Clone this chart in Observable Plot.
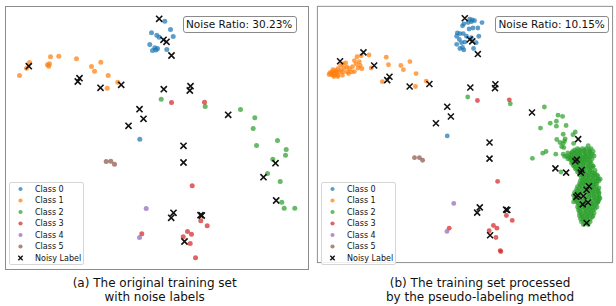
<!DOCTYPE html>
<html>
<head>
<meta charset="utf-8">
<script src="https://cdn.jsdelivr.net/npm/d3@7"></script>
<script src="https://cdn.jsdelivr.net/npm/@observablehq/plot@0.6"></script>
<style>
  html, body { margin: 0; padding: 0; background: #fff; }
  #wrap { position: relative; width: 616px; height: 306px; overflow: hidden; background: #fff; font-family: "DejaVu Sans", sans-serif; }
  .panel { position: absolute; top: 0; }
  .ratio { position: absolute; box-sizing: border-box; border: 1px solid #8a8a8a; border-radius: 3px; background: #fff;
           font-size: 10.5px; line-height: 14px; padding-left: 2.5px; white-space: nowrap; color: #111; }
  .legend { position: absolute; box-sizing: border-box; border: 1px solid #d6d6d6; border-radius: 2px; background: rgba(255,255,255,0.85); }
  .caption { position: absolute; width: 240px; text-align: center; font-size: 12px; line-height: 14px; color: #111; }
</style>
</head>
<body>
<div id="wrap"></div>
<script>
// ---------- categories ----------
const classNames = ["Class 0", "Class 1", "Class 2", "Class 3", "Class 4", "Class 5"];
const classColors = ["#1f77b4", "#ff7f0e", "#2ca02c", "#d62728", "#9467bd", "#8c564b"];
const noisyName = "Noisy Label";
const ratioA = "Noise Ratio: 30.23%";
const ratioB = "Noise Ratio: 10.15%";
const captionA = ["(a) The original training set", "with noise labels"];
const captionB = ["(b) The training set processed", "by the pseudo-labeling method"];

// ---------- panel (a): embedding coordinates ----------
const a_class0 = [[164.3,20.7],[170,29],[151,32.3],[156.3,34.7],[158.7,36.7],[172.7,36],[149.3,44],[154.3,47.3],[157,48],[152,50],[166.3,49],[155.5,49.5],[139.3,138.7]];
const a_class1 = [[19,75],[26,67.7],[29,62],[47,64.3],[49,63.3],[48.3,65.7],[50,56.3],[58.3,55.7],[76,58.3],[91,66],[100.3,61.7],[94,70.7],[107.7,75],[117.3,81.7],[106.7,87.7]];
const a_class2 = [[160.7,98.7],[204.7,106],[240,109],[254.3,117.3],[252.7,128],[256,145],[277,140],[285.7,149],[285,154.7],[272.3,158.7],[267,173],[279.7,181],[281.3,201.7],[283.7,207.7],[294.3,207.7]];
const a_class3 = [[171,102],[204,101.7],[191.7,185.3],[200.3,220.3],[206.7,225.3],[187,231],[191,233.7],[182.7,236.3],[189.7,243],[195,257.3],[141.3,233.3]];
const a_class4 = [[145.7,208],[139,237]];
const a_class5 = [[105.7,161],[110.3,160.7],[114,163.7]];
const a_noisy = [[158.7,18.3],[163,39.3],[166,41.3],[171,55],[28.3,65.7],[77.3,81],[79,77.7],[100,87.3],[120.7,84.3],[163.3,88.7],[189.3,90],[190,85.7],[139,108.7],[143,118.3],[128,125.3],[227.7,114.3],[183,145.3],[183,162],[275,162.7],[263,176.7],[275.7,200],[173,212.3],[170.7,217.3],[200,214.7],[201.3,215],[184,241]];

// ---------- panel (b) ----------
const b_class0 = [[473.3,19.3],[476,20],[478.3,20.7],[475,21.7],[471.7,22.7],[467.3,24],[466,26],[486,22.7],[481.7,28.3],[476.7,28.3],[472.7,29.3],[460.7,33.3],[463.3,34],[466.7,34],[460,36.7],[470,36.7],[475,38.3],[482.7,36.7],[462.7,40],[465,43.3],[460,45],[466,48.3],[463.3,49.3],[467.3,50.7],[477.3,49.3],[468.3,42.7],[480,43.3],[450.3,139]];
const b_class1 = [[370,56],[362,56.7],[357.7,57.7],[355,61.7],[360,62.7],[356.7,65],[361,66.7],[358.7,69.3],[362.7,70],[352,73.3],[347.3,68.3],[347.7,73.3],[343.3,73.3],[344.3,69.3],[340.7,66.7],[338,70],[336,71.7],[334.3,73.3],[332.7,75],[332,73.3],[335.3,76],[336.7,74.3],[339.3,73.3],[331,76],[333.3,76.7],[337.7,76.7],[341,71.7],[342.7,76.7],[330,74],[334,78],[338,78],[329,76],[333,71],[343,65],[346,64],[350,70],[353,68],[349,75],[355,73],[387.7,58.3],[390,66],[402.7,66.7],[412,62.7],[405.3,71],[418.3,75],[383.7,83.3],[417.7,88.3],[372.3,69.3],[428.7,82.7]];
const b_class2 = [[471.3,99],[515,106],[550,109.3],[564,117.7],[568.7,119],[562.3,124],[556,126],[562.3,129],[572.3,128.3],[546,131],[569.3,137.3],[579.3,137.7],[581.7,135],[562.7,142.7],[566,145.7],[570.7,144.3],[569.3,146.7],[567.7,150],[580,146.7],[595,149],[570,151],[548.3,156.7],[551.7,155],[561.7,157.7],[569.3,157.7],[570.7,160],[576.7,161.7],[537.7,162],[571.3,142],[567,176],[600,170],[607.3,183.3],[605,206.7],[580,206.7],
  [584,152],[589,152],[593,152],[598,152],
  [581,153.5],[586,153.5],[591,153.5],[596,153.5],
  [579,155],[583,155],[587,155],[591,155],[596,155],[600,155],
  [574,156.5],[578,156.5],[582,156.5],[586.5,156.5],[592,156.5],[597,156.5],
  [577,158],[581,158],[585,158],[590,158],[594,158],[599,158],
  [573,159.5],[578,159.5],[583,159.5],[587,159.5],[592,159.5],[596,159.5],[601,159.5],
  [575,161],[579,161],[584,161],[588,161],[592,161],[597,161],
  [574,162.5],[578,162.5],[581,162.5],[586,162.5],[590,162.5],[594,162.5],[599,162.5],
  [577,164],[582,164],[586,164],[590,164],[595,164],
  [579,165.5],[584,165.5],[588,165.5],[592,165.5],[597,165.5],
  [578,167],[583,167],[588,167],[593,167],[598,167],
  [580,168.5],[585,168.5],[590,168.5],[596,168.5],
  [580,170],[585,170],[590,170],[595,170],[600,170.5],
  [582,171.5],[588,171.5],[593,171.5],[598,171.5],
  [582,173],[586,173],[591,173],[596,173],
  [585,174.5],[590,174.5],[597,174.5],[602,174.5],
  [584,176],[589,176],[594,176],[599,176],
  [588,177.5],[593,177.5],[598,177.5],[602,177.5],
  [586,179],[591,179],[596,179],[601,179],[604,179],
  [590,180.5],[595,180.5],[600,180.5],[605,180.5],
  [588,182],[593,182],[598,182],[603,182],
  [590,183.5],[595,183.5],[600,183.5],[605,183.5],
  [587,185],[592,185],[597,185],[602,185],[606,185],
  [589,186.5],[593,186.5],[598,186.5],[603,186.5],
  [586,188],[590,188],[595,188],[600,188],[604,188],
  [587,189.5],[592,189.5],[597,189.5],[601,189.5],
  [584,191],[589,191],[599,191],[603,191],
  [586,192.5],[592,192.5],[596,192.5],[601,192.5],[606,192.5],
  [583,194],[588,194],[599,194],[604,194],
  [584,195.5],[590,195.5],[595,195.5],[600,195.5],[605,195.5],
  [581,197],[586,197],[592,197],[597,197],[602,197],[606,197],
  [583,198.5],[588,198.5],[596,198.5],[601,198.5],[606,198.5],
  [580,200],[594,200],[599,200],[604,200],
  [586,201.5],[596,201.5],[601,201.5],[606,201.5],
  [581,203],[586,203],[592,203],[598,203],[603,203],[607,203],
  [582,204.5],[590,204.5],[595,204.5],[602,204.5],[606,204.5],
  [583,206],[588,206],[600,206],[605,206],
  [584,207.5],[594,207.5],[598,207.5],[604,207.5],
  [585,209],[591,209],[599,209],[603,209],
  [586,210.5],[590,210.5],[596,210.5],[601,210.5],
  [584,212],[589,212],[594,212],[599,212],[604,212],
  [586,213.5],[592,213.5],[597,213.5],[602,213.5],
  [585,215],[590,215],[595,215],[600,215],
  [587,216.5],[593,216.5],[598,216.5],
  [586,218],[591,218],[596,218],[601,218],
  [588,219.5],[593,219.5],[598,219.5],
  [586,221],[590,221],[595,221],[600,221],
  [589,222.5],[594,222.5],[599,222.5],
  [587,224],[592,224],[597,224],
  [590,225.5],[594,225.5],
  [588,227],[597,227],
  [592,228.5],
  [590,230],[595,230]];
const b_class3 = [[481.3,102.7],[514,102],[502,185.7],[511,220.7],[517,225.7],[497.7,231],[501.3,233.7],[493.3,236.3],[500.3,243.3],[504.7,256.7],[505.3,257.7],[452.3,233.7]];
const b_class4 = [[457,208.3],[450,237]];
const b_class5 = [[416.7,161.3],[421.7,161.3],[425,164]];
const b_noisy = [[468.3,18.3],[473.3,40],[476,42],[481.7,55],[340.3,62.3],[364.3,53.3],[375.3,66.7],[391,78.3],[388.7,81.7],[411.7,88.3],[432,85.7],[474,89.3],[499.7,86],[499.3,90],[450.3,109],[454,119],[438.7,126],[537.3,115],[493.7,145.7],[493.7,162.3],[483.7,212.3],[481,217.7],[510.7,214.7],[512,215],[494.3,241],[584.7,142.3],[583.3,163.3],[581.7,165],[561.3,172.3],[572.3,176.7],[588.3,174],[587.3,176.7],[595.7,190.7],[593.3,194.3],[582.7,201.7],[584.3,200],[590,200.7],[589.3,209.3],[594.7,207.3],[593.3,228.3]];

// plot extents of each embedding panel
const a_xDomain = [5, 308], a_yDomain = [6, 269];
const b_xDomain = [317, 620], b_yDomain = [6, 269];

function rows(classes) {
  const out = [];
  classes.forEach((arr, i) => arr.forEach(([x, y]) => out.push({x, y, cls: classNames[i]})));
  return out;
}
function pts(arr) { return arr.map(([x, y]) => ({x, y})); }

function panel(classes, noisy, xDomain, yDomain) {
  return Plot.plot({
    width: 312, height: 272,
    marginLeft: 5, marginTop: 6, marginRight: 4, marginBottom: 3,
    x: {domain: xDomain, axis: null},
    y: {domain: yDomain, reverse: true, axis: null},
    color: {domain: classNames, range: classColors},
    style: {background: "transparent", overflow: "visible"},
    marks: [
      Plot.frame({stroke: "#8c8c8c", strokeWidth: 1}),
      Plot.dot(rows(classes), {x: "x", y: "y", fill: "cls", r: 2.5, fillOpacity: 0.72, stroke: null}),
      Plot.dot(pts(noisy), {x: "x", y: "y", symbol: "times", r: 2.9, stroke: "#111", strokeWidth: 1.6})
    ]
  });
}

const wrap = document.getElementById("wrap");

function addPanel(left, svg) {
  const d = document.createElement("div");
  d.className = "panel";
  d.style.left = left + "px";
  d.appendChild(svg);
  wrap.appendChild(d);
}

addPanel(0, panel([a_class0, a_class1, a_class2, a_class3, a_class4, a_class5], a_noisy, a_xDomain, a_yDomain));
addPanel(312, panel([b_class0, b_class1, b_class2, b_class3, b_class4, b_class5], b_noisy, b_xDomain, b_yDomain));

function addRatio(left, top, width, height, text) {
  const d = document.createElement("div");
  d.className = "ratio";
  Object.assign(d.style, {left: left + "px", top: top + "px", width: width + "px", height: height + "px", lineHeight: (height - 2) + "px"});
  d.textContent = text;
  wrap.appendChild(d);
}
addRatio(182.5, 16, 114, 17, ratioA);
addRatio(495, 16, 113.5, 17, ratioB);

function addLegend(left, top) {
  const w = 75, h = 83;
  const box = document.createElement("div");
  box.className = "legend";
  Object.assign(box.style, {left: left + "px", top: top + "px", width: w + "px", height: h + "px"});
  const svg = d3.create("svg").attr("width", w).attr("height", h).style("position", "absolute").style("left", "-1px").style("top", "-1px");
  const items = classNames.map((n, i) => ({label: n, color: classColors[i], noisy: false}))
    .concat([{label: noisyName, color: "#111", noisy: true}]);
  const gy = 7, step = 11.5;
  items.forEach((it, i) => {
    const y = gy + i * step;
    if (it.noisy) {
      svg.append("path").attr("d", d3.symbol(d3.symbolTimes, 14)()).attr("transform", `translate(11.5,${y})`)
        .attr("stroke", "#111").attr("stroke-width", 1.4).attr("fill", "none");
    } else {
      svg.append("circle").attr("cx", 11.5).attr("cy", y).attr("r", 2.1).attr("fill", it.color).attr("fill-opacity", 0.72);
    }
    svg.append("text").attr("x", 26).attr("y", y).attr("dy", "0.35em")
      .attr("font-family", "DejaVu Sans, sans-serif").attr("font-size", 8).attr("fill", "#111").text(it.label);
  });
  box.appendChild(svg.node());
  wrap.appendChild(box);
}
addLegend(9, 182);
addLegend(320.5, 182);

function addCaption(center, lines) {
  const d = document.createElement("div");
  d.className = "caption";
  Object.assign(d.style, {left: (center - 120) + "px", top: "276px"});
  d.innerHTML = lines.map(l => `<div>${l}</div>`).join("");
  wrap.appendChild(d);
}
addCaption(154.7, captionA);
addCaption(480, captionB);
</script>
</body>
</html>
